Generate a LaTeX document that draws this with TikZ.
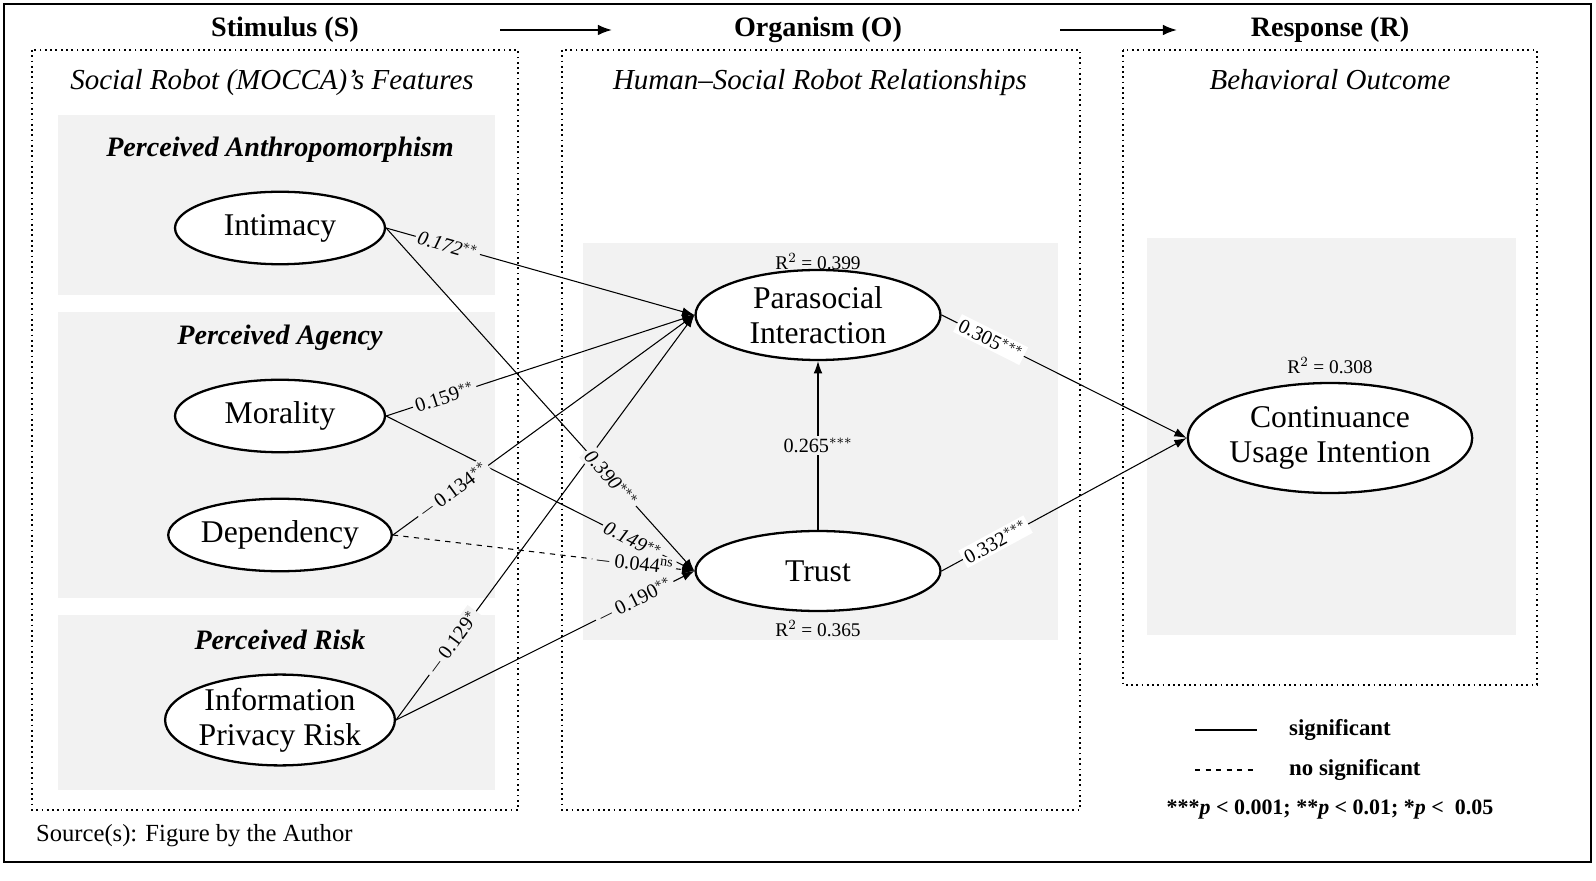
\documentclass[tikz,border=0pt]{standalone}
\usepackage{fontspec}
\setmainfont{Liberation Serif}
\usetikzlibrary{shapes.geometric,arrows.meta}
\definecolor{bgg}{HTML}{F2F2F2}
\begin{document}
\begin{tikzpicture}[x=0.02cm,y=-0.02cm,
  ell/.style={ellipse,draw,line width=1.3pt,fill=white,font=\fontsize{18}{20}\selectfont,align=center,inner sep=0pt},
  hdr/.style={font=\bfseries\fontsize{16}{18}\selectfont},
  sub/.style={font=\itshape\fontsize{16.5}{18}\selectfont},
  grp/.style={font=\bfseries\itshape\fontsize{16}{18}\selectfont},
  dotbox/.style={draw,dotted,line width=1pt},
  lk/.style={line width=0.6pt,-{Latex[length=7pt,width=5pt]}},
  lab/.style={sloped,font=\fontsize{11.5}{13}\selectfont,inner sep=1.5pt,fill=bgg},
  labw/.style={sloped,font=\fontsize{11.5}{13}\selectfont,inner sep=1.5pt,fill=white},
  rsq/.style={font=\fontsize{11}{13}\selectfont}]
\useasboundingbox (0,0) rectangle (1596,881);
\draw[line width=0.8pt] (4,4) rectangle (1591,862);
% gray boxes
\fill[bgg] (58,115) rectangle (495,295);
\fill[bgg] (58,312) rectangle (495,598);
\fill[bgg] (58,615) rectangle (495,790);
\fill[bgg] (583,243) rectangle (1058,640);
\fill[bgg] (1147,238) rectangle (1516,635);
% dotted boxes
\draw[dotbox] (32,50) rectangle (518,810);
\draw[dotbox] (562,50) rectangle (1080,810);
\draw[dotbox] (1123,50) rectangle (1537,685);
% headers
\node[hdr] (hs) at (285,30) {Stimulus (S)};
\node[hdr] (ho) at (818,30) {Organism (O)};
\node[hdr] (hr) at (1330,30) {Response (R)};
\coordinate (a1s) at (500,30); \coordinate (a1e) at (612,30);
\coordinate (a2s) at (1060,30); \coordinate (a2e) at (1177,30);
\draw[line width=1pt,-{Latex[length=8pt,width=6pt]}] (a1s) -- (a1e);
\draw[line width=1pt,-{Latex[length=8pt,width=6pt]}] (a2s) -- (a2e);
\node[sub] (ss) at (272,83) {Social Robot (MOCCA)’s Features};
\node[sub] (so) at (820,83) {Human–Social Robot Relationships};
\node[sub] (sr) at (1330,80) {Behavioral Outcome};
\node[grp] (g1) at (280,150) {Perceived Anthropomorphism};
\node[grp] (g2) at (280,338) {Perceived Agency};
\node[grp] (g3) at (280,640) {Perceived Risk};
% ellipses
\node[ell,minimum width=4.2cm,minimum height=1.45cm] (int) at (280,228) {Intimacy};
\node[ell,minimum width=4.2cm,minimum height=1.45cm] (mor) at (280,416) {Morality};
\node[ell,minimum width=4.2cm,minimum height=1.45cm] (dep) at (280,535) {Dependency};
\node[ell,minimum width=4.2cm,minimum height=1.7cm] (ipr) at (280,720) {Information\\Privacy Risk};
\node[ell,minimum width=4.9cm,minimum height=1.8cm] (par) at (818,315) {Parasocial\\Interaction};
\node[ell,minimum width=4.9cm,minimum height=1.6cm] (tru) at (818,571) {Trust};
\node[ell,minimum width=4.8cm,minimum height=2.2cm] (con) at (1330,438) {Continuance\\Usage Intention};
\node[rsq] (r1) at (818,262) {R$^2$ = 0.399};
\node[rsq] (r2) at (818,629) {R$^2$ = 0.365};
\node[rsq] (r3) at (1330,366) {R$^2$ = 0.308};
% links
\draw[lk] (int.east) -- (par.west);
\draw[lk] (int.east) -- (tru.west);
\draw[lk] (mor.east) -- (par.west);
\draw[lk] (mor.east) -- (tru.west);
\draw[lk] (dep.east) -- (par.west);
\draw[lk,dashed] (dep.east) -- (tru.west);
\draw[lk] (ipr.east) -- (par.west);
\draw[lk] (ipr.east) -- (tru.west);
\draw[lk] (tru.north) -- (par.south);
\draw[lk] (par.east) -- (con.west);
\draw[lk] (tru.east) -- (con.west);
% link labels (on top of all lines)
\path (int.east) -- node[lab,pos=0.2]{\itshape 0.172$^{**}$} (par.west);
\path (int.east) -- node[lab,pos=0.73]{\itshape 0.390$^{***}$} (tru.west);
\path (mor.east) -- node[lab,pos=0.19]{0.159$^{**}$} (par.west);
\path (mor.east) -- node[lab,pos=0.8]{\itshape 0.149$^{**}$} (tru.west);
\path (dep.east) -- node[lab,pos=0.2]{$-$\,0.134$^{**}$} (par.west);
\path (dep.east) -- node[lab,pos=0.8]{$-$\,0.044$^{\mathrm{ns}}$} (tru.west);
\path (ipr.east) -- node[lab,pos=0.19]{$-$\,0.129$^{*}$} (par.west);
\path (ipr.east) -- node[lab,pos=0.8]{$-$\,0.190$^{**}$} (tru.west);
\path (tru.north) -- node[lab,pos=0.5,sloped=false]{0.265$^{***}$} (par.south);
\path (par.east) -- node[labw,pos=0.2]{0.305$^{***}$} (con.west);
\path (tru.east) -- node[labw,pos=0.22]{0.332$^{***}$} (con.west);
% legend
\coordinate (l1a) at (1195,730); \coordinate (l1b) at (1257,730);
\coordinate (l2a) at (1195,770); \coordinate (l2b) at (1257,770);
\draw[line width=0.8pt] (l1a) -- (l1b);
\draw[line width=0.8pt,dashed] (l2a) -- (l2b);
\node[anchor=west,font=\bfseries\fontsize{13}{15}\selectfont] (ls) at (1283,730) {significant};
\node[anchor=west,font=\bfseries\fontsize{13}{15}\selectfont] (ln) at (1283,770) {no significant};
\node[font=\bfseries\fontsize{12.5}{14}\selectfont] (lp) at (1330,810) {***\textit{p} < 0.001; **\textit{p} < 0.01; *\textit{p} <\ \ 0.05};
\node[anchor=west,font=\fontsize{14}{16}\selectfont] (src) at (30,836) {Source(s): Figure by the Author};
\end{tikzpicture}
\end{document}
